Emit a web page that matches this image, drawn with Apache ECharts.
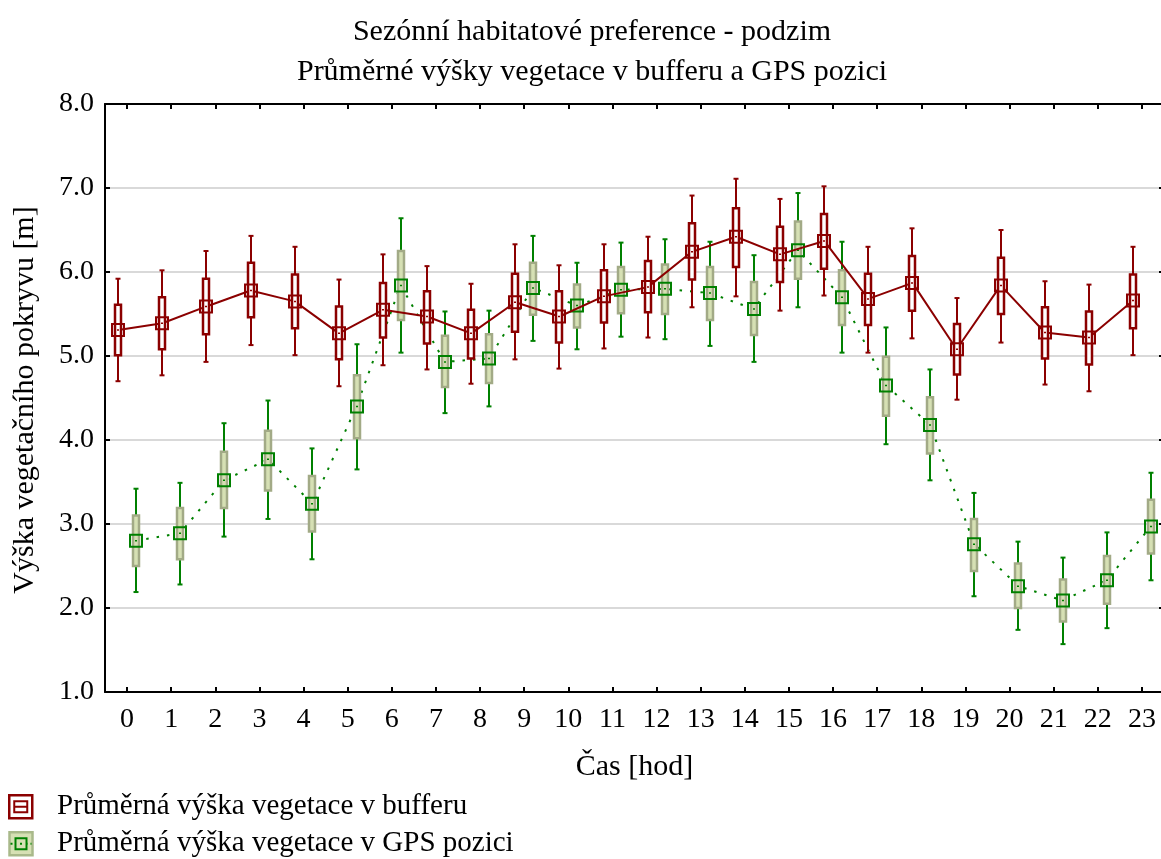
<!DOCTYPE html>
<html><head><meta charset="utf-8">
<script src="https://cdn.jsdelivr.net/npm/echarts@6/dist/echarts.min.js"></script>
<style>html,body{margin:0;padding:0;background:#fff}#c{width:1161px;height:859px}</style>
</head><body><div id="c"></div>
<script>
const hours = ['0','1','2','3','4','5','6','7','8','9','10','11','12','13','14','15','16','17','18','19','20','21','22','23'];
const yTicks = [1,2,3,4,5,6,7,8];

const bufMean = [5.31,5.39,5.59,5.78,5.65,5.27,5.55,5.47,5.27,5.64,5.47,5.71,5.82,6.24,6.42,6.21,6.37,5.68,5.87,5.08,5.84,5.28,5.22,5.66];
const bufBoxLo = [5.01,5.08,5.26,5.46,5.33,4.96,5.22,5.15,4.97,5.29,5.16,5.40,5.52,5.91,6.06,5.88,6.04,5.37,5.54,4.78,5.50,4.97,4.90,5.33];
const bufBoxHi = [5.61,5.70,5.92,6.11,5.97,5.59,5.87,5.77,5.55,5.98,5.77,6.02,6.13,6.58,6.76,6.54,6.69,5.98,6.19,5.38,6.17,5.58,5.53,5.97];
const bufWhLo = [4.70,4.77,4.93,5.13,5.01,4.64,4.89,4.84,4.67,4.96,4.85,5.09,5.22,5.58,5.71,5.54,5.72,5.04,5.21,4.48,5.16,4.66,4.58,5.01];
const bufWhHi = [5.92,6.02,6.25,6.43,6.30,5.91,6.21,6.07,5.86,6.33,6.08,6.33,6.42,6.91,7.11,6.87,7.02,6.30,6.52,5.69,6.50,5.89,5.85,6.30];

const gpsMean = [2.80,2.89,3.52,3.77,3.24,4.40,5.84,4.93,4.97,5.81,5.60,5.79,5.80,5.75,5.56,6.26,5.70,4.65,4.18,2.76,2.26,2.09,2.33,2.97];
const gpsBoxLo = [2.50,2.58,3.19,3.40,2.91,4.02,5.43,4.63,4.68,5.49,5.34,5.51,5.50,5.43,5.25,5.92,5.37,4.29,3.84,2.44,2.00,1.84,2.05,2.65];
const gpsBoxHi = [3.10,3.19,3.86,4.11,3.57,4.77,6.25,5.24,5.26,6.11,5.85,6.06,6.09,6.06,5.88,6.60,6.02,4.99,4.51,3.06,2.53,2.34,2.62,3.29];
const gpsWhLo = [2.19,2.28,2.85,3.06,2.58,3.65,5.04,4.32,4.40,5.18,5.08,5.23,5.20,5.12,4.93,5.58,5.04,3.95,3.52,2.14,1.74,1.57,1.76,2.33];
const gpsWhHi = [3.42,3.49,4.20,4.47,3.90,5.14,6.64,5.53,5.54,6.43,6.11,6.35,6.39,6.36,6.20,6.94,6.36,5.34,4.84,3.37,2.79,2.60,2.90,3.61];

const seriesNames = ['Průměrná výška vegetace v bufferu', 'Průměrná výška vegetace v GPS pozici'];
const titleLines = ['Sezónní habitatové preference - podzim', 'Průměrné výšky vegetace v bufferu a GPS pozici'];
const xName = 'Čas [hod]';
const yName = 'Výška vegetačního pokryvu [m]';

const FONT = '"Liberation Serif", "Times New Roman", serif';
const RED = '#8B0000', GREEN = '#008000';
const OFF = 0.2;

function rows(off, m, bl, bh, wl, wh) {
  return hours.map((h, i) => [i + off, m[i], bl[i], bh[i], wl[i], wh[i]]);
}
const bufRows = rows(-OFF, bufMean, bufBoxLo, bufBoxHi, bufWhLo, bufWhHi);
const gpsRows = rows(OFF, gpsMean, gpsBoxLo, gpsBoxHi, gpsWhLo, gpsWhHi);

function boxRender(st) {
  return function (params, api) {
    const x = api.value(0);
    const pM = api.coord([x, api.value(1)]);
    const pBL = api.coord([x, api.value(2)]);
    const pBH = api.coord([x, api.value(3)]);
    const pWL = api.coord([x, api.value(4)]);
    const pWH = api.coord([x, api.value(5)]);
    const cx = Math.round(pM[0]);
    const bw = 6, cap = 2.5, ms = 12;
    return {
      type: 'group',
      children: [
        { type: 'line', shape: { x1: cx, y1: pWH[1], x2: cx, y2: pWL[1] }, style: { stroke: st.wh, lineWidth: 2 } },
        { type: 'line', shape: { x1: cx - cap, y1: pWH[1], x2: cx + cap, y2: pWH[1] }, style: { stroke: st.wh, lineWidth: 2 } },
        { type: 'line', shape: { x1: cx - cap, y1: pWL[1], x2: cx + cap, y2: pWL[1] }, style: { stroke: st.wh, lineWidth: 2 } },
        { type: 'rect', shape: { x: cx - bw / 2, y: pBH[1], width: bw, height: pBL[1] - pBH[1] }, style: { fill: st.boxFill, stroke: st.boxStroke, lineWidth: 2.5 } },
        { type: 'rect', shape: { x: cx - ms / 2, y: pM[1] - ms / 2, width: ms, height: ms }, style: { fill: 'none', stroke: st.mk, lineWidth: 2 } },
        { type: 'line', shape: { x1: cx - 1, y1: pM[1], x2: cx + 1, y2: pM[1] }, style: { stroke: st.mk, lineWidth: 1.5 } }
      ]
    };
  };
}

const chart = echarts.init(document.getElementById('c'), null, { renderer: 'canvas' });
const axisText = { fontFamily: FONT, fontSize: 28, color: '#000' };

chart.setOption({
  animation: false,
  backgroundColor: '#fff',
  textStyle: { fontFamily: FONT },
  title: {
    text: titleLines.join('\n'),
    left: 587, top: 7, textAlign: 'center',
    textStyle: { fontFamily: FONT, fontSize: 30, fontWeight: 'normal', color: '#000', lineHeight: 40 }
  },
  grid: { left: 105, top: 104, right: -3, bottom: 167, containLabel: false, outerBoundsMode: 'none' },
  xAxis: [
    {
      type: 'category', data: hours, boundaryGap: true, position: 'bottom',
      axisLine: { show: true, onZero: false, lineStyle: { color: '#000', width: 2 } },
      axisTick: { show: true, inside: true, alignWithLabel: true, length: 5, lineStyle: { color: '#000', width: 2 } },
      axisLabel: Object.assign({ margin: 14, interval: 0 }, axisText),
      splitLine: { show: false },
      name: xName, nameLocation: 'middle', nameGap: 60,
      nameTextStyle: { fontFamily: FONT, fontSize: 30, color: '#000' }
    },
    {
      type: 'category', data: hours, boundaryGap: true, position: 'top',
      axisLine: { show: true, onZero: false, lineStyle: { color: '#000', width: 2 } },
      axisTick: { show: true, inside: true, alignWithLabel: true, length: 5, lineStyle: { color: '#000', width: 2 } },
      axisLabel: { show: false }, splitLine: { show: false }
    },
    { type: 'value', min: -0.5, max: 23.5, show: false, splitLine: { show: false }, axisLine: { onZero: false } }
  ],
  yAxis: [
    {
      type: 'value', min: 1, max: 8, interval: 1, position: 'left',
      axisLine: { show: true, onZero: false, lineStyle: { color: '#000', width: 2 } },
      axisTick: { show: true, inside: true, length: 5, lineStyle: { color: '#000', width: 2 } },
      axisLabel: Object.assign({ margin: 11, formatter: v => v.toFixed(1) }, axisText),
      splitLine: { show: true, lineStyle: { color: '#d9d9d9', width: 2 } }
    },
    {
      type: 'value', min: 1, max: 8, interval: 1, position: 'right',
      axisLine: { show: true, onZero: false, lineStyle: { color: '#000', width: 2 } },
      axisTick: { show: true, inside: true, length: 5, lineStyle: { color: '#000', width: 2 } },
      axisLabel: { show: false }, splitLine: { show: false }
    }
  ],
  series: [
    {
      name: seriesNames[1] + ' line', type: 'line', xAxisIndex: 2, yAxisIndex: 0,
      data: gpsRows.map(r => [r[0], r[1]]), symbol: 'none', z: 2,
      lineStyle: { color: GREEN, width: 2, type: [2.5, 8] }
    },
    {
      name: seriesNames[1], type: 'custom', xAxisIndex: 2, yAxisIndex: 0, z: 3,
      renderItem: boxRender({ wh: GREEN, boxFill: '#d6e0b4', boxStroke: '#a2aa86', mk: GREEN }),
      data: gpsRows
    },
    {
      name: seriesNames[0] + ' line', type: 'line', xAxisIndex: 2, yAxisIndex: 0,
      data: bufRows.map(r => [r[0], r[1]]), symbol: 'none', z: 4,
      lineStyle: { color: RED, width: 2 }
    },
    {
      name: seriesNames[0], type: 'custom', xAxisIndex: 2, yAxisIndex: 0, z: 5,
      renderItem: boxRender({ wh: RED, boxFill: '#ffffff', boxStroke: RED, mk: RED }),
      data: bufRows
    }
  ],
  graphic: [
    {
      type: 'text', x: 25, y: 400, rotation: Math.PI / 2,
      style: { text: yName, font: '30px ' + FONT, fill: '#000', textAlign: 'center', textVerticalAlign: 'middle' }
    },
    {
      type: 'group', left: 8, top: 794,
      children: [
        { type: 'rect', shape: { x: 0, y: 0, width: 23, height: 23 }, style: { fill: '#fff', stroke: RED, lineWidth: 2.5 } },
        { type: 'rect', shape: { x: 5, y: 6, width: 13, height: 11 }, style: { fill: 'none', stroke: RED, lineWidth: 2 } },
        { type: 'line', shape: { x1: 5, y1: 11.5, x2: 18, y2: 11.5 }, style: { stroke: RED, lineWidth: 2 } }
      ]
    },
    {
      type: 'text', x: 57, y: 806,
      style: { text: seriesNames[0], font: '29px ' + FONT, fill: '#000', textVerticalAlign: 'middle' }
    },
    {
      type: 'group', left: 8, top: 831,
      children: [
        { type: 'rect', shape: { x: 0, y: 0, width: 23, height: 23 }, style: { fill: '#d6e0b4', stroke: '#a9b98a', lineWidth: 2.5 } },
        { type: 'line', shape: { x1: 1, y1: 11.5, x2: 22, y2: 11.5 }, style: { stroke: GREEN, lineWidth: 2, lineDash: [2, 3] } },
        { type: 'rect', shape: { x: 6, y: 6, width: 11, height: 11 }, style: { fill: '#d6e0b4', stroke: GREEN, lineWidth: 2 } },
        { type: 'rect', shape: { x: 10.5, y: 10.5, width: 2, height: 2 }, style: { fill: GREEN } }
      ]
    },
    {
      type: 'text', x: 57, y: 843,
      style: { text: seriesNames[1], font: '29px ' + FONT, fill: '#000', textVerticalAlign: 'middle' }
    }
  ]
});
</script>
</body></html>
